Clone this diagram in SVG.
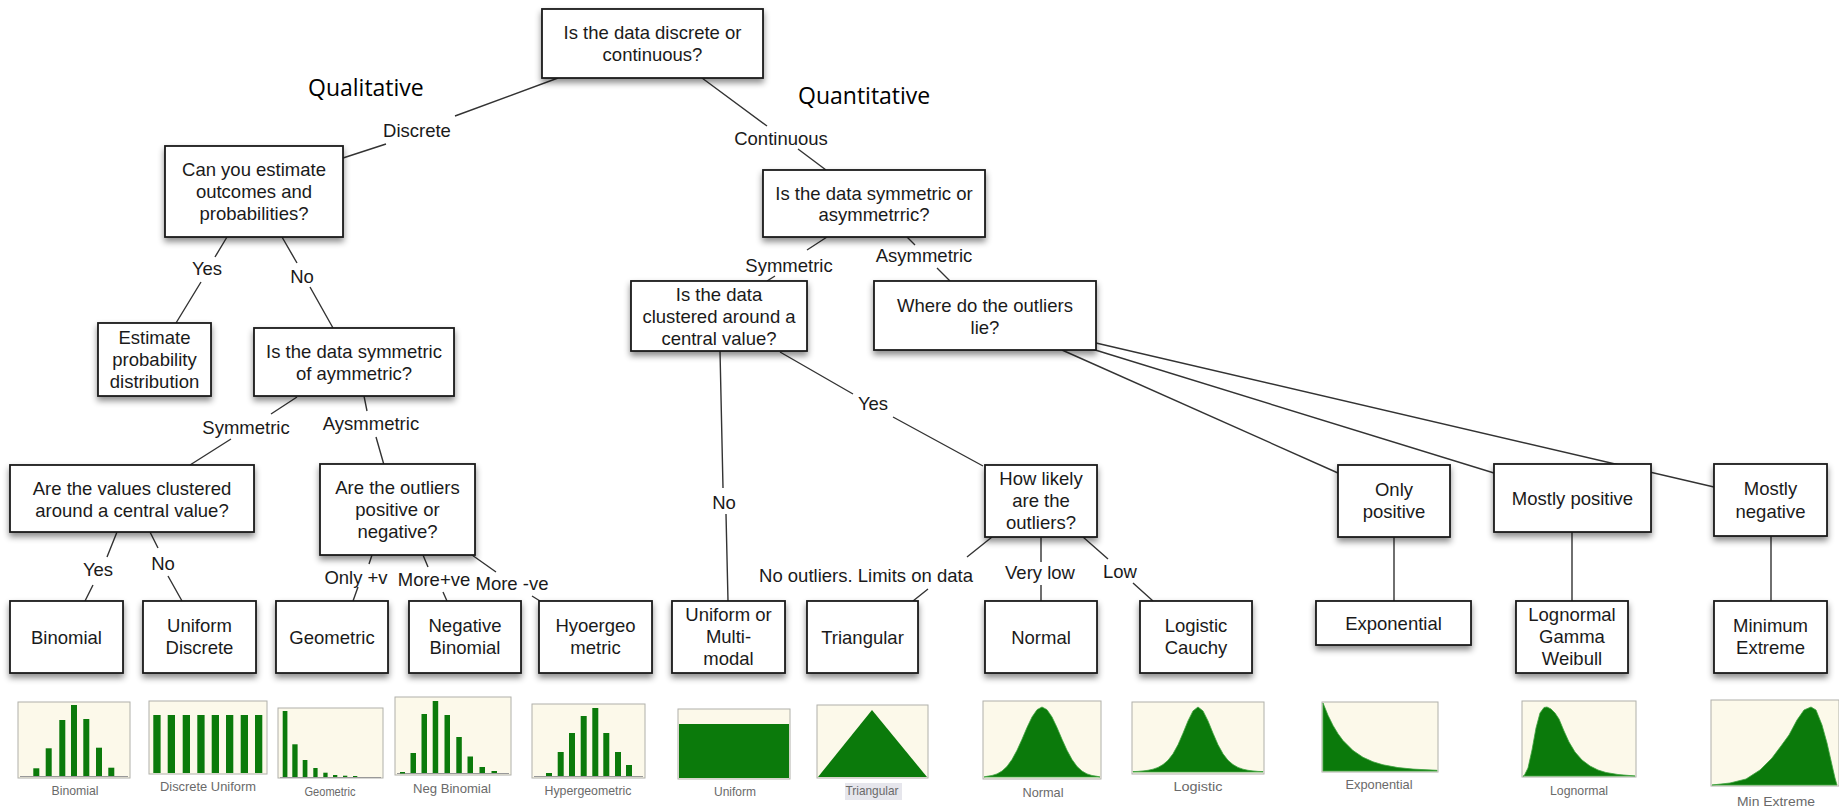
<svg xmlns="http://www.w3.org/2000/svg" width="1839" height="810" viewBox="0 0 1839 810">
<defs>
<filter id="sh" x="-10%" y="-10%" width="120%" height="140%">
<feDropShadow dx="0" dy="4" stdDeviation="3" flood-color="#000" flood-opacity="0.45"/>
</filter>
<style>
.box{fill:#fff;stroke:#1a1a1a;stroke-width:1.8;filter:url(#sh)}
.t{font-family:"Liberation Sans",Arial,Helvetica,sans-serif;font-size:18.5px;fill:#1a1a1a;text-anchor:middle}
.big{font-family:"Open Sans","Noto Sans",sans-serif;font-size:23px;fill:#000}
.conn{stroke:#333;stroke-width:1.4;fill:none}
.chart{fill:#fcf9ea;stroke:#b0b0aa;stroke-width:1}
.g{fill:#0b7a0b}
.gc{fill:#0b7a0b;stroke:#3fa33f;stroke-width:0.8}
.axis{stroke:#999;stroke-width:1}
.cap{font-family:"Liberation Sans",Arial,sans-serif;font-size:13px;fill:#6a6a6a;text-anchor:middle}
</style>
</defs>
<rect width="1839" height="810" fill="#fff"/>

<g id="connectors">
<path class="conn" d="M558,78 L455,116 M386,144 L343,158"/>
<path class="conn" d="M702,78 L767,126 M798,149 L826,170"/>
<path class="conn" d="M227,237 L215,257 M201,282 L176,323"/>
<path class="conn" d="M282,237 L297,263 M310,287 L333,328"/>
<path class="conn" d="M297,397 L271,414 M231,439 L190,465"/>
<path class="conn" d="M364,396 L367,411 M376,437 L384,465"/>
<path class="conn" d="M117,532 L107,557 M93,585 L85,601"/>
<path class="conn" d="M150,532 L158,548 M168,576 L182,601"/>
<path class="conn" d="M372,555 L369,564 M358,587 L353,601"/>
<path class="conn" d="M423,555 L428,567 M443,592 L447,601"/>
<path class="conn" d="M472,555 L496,572 M532,596 L540,601"/>
<path class="conn" d="M827,237 L807,250 M775,276 L767,281"/>
<path class="conn" d="M907,237 L915,245 M937,268 L950,281"/>
<path class="conn" d="M720,351 L723,488 M726,514 L728,601"/>
<path class="conn" d="M780,352 L853,394 M893,417 L983,466"/>
<path class="conn" d="M992,537 L967,557 M928,589 L913,601"/>
<path class="conn" d="M1041,537 L1041,562 M1041,585 L1041,601"/>
<path class="conn" d="M1083,537 L1108,559 M1133,583 L1153,601"/>
<path class="conn" d="M1062,350 L1338,473"/>
<path class="conn" d="M1092,349 L1494,473"/>
<path class="conn" d="M1096,343 L1714,487"/>
<path class="conn" d="M1394,537 L1394,601"/>
<path class="conn" d="M1572,532 L1572,601"/>
<path class="conn" d="M1771,536 L1771,601"/>
</g>

<g id="edge-labels">
<text class="big" x="308" y="96">Qualitative</text>
<text class="big" x="798" y="104">Quantitative</text>
<text class="t" x="417" y="136.5">Discrete</text>
<text class="t" x="781" y="144.5">Continuous</text>
<text class="t" x="207" y="274.5">Yes</text>
<text class="t" x="302" y="282.5">No</text>
<text class="t" x="246" y="433.5">Symmetric</text>
<text class="t" x="371" y="429.5">Aysmmetric</text>
<text class="t" x="98" y="575.5">Yes</text>
<text class="t" x="163" y="569.5">No</text>
<text class="t" x="356" y="583.5">Only +v</text>
<text class="t" x="434" y="585.5">More+ve</text>
<text class="t" x="512" y="589.5">More -ve</text>
<text class="t" x="789" y="271.5">Symmetric</text>
<text class="t" x="924" y="261.5">Asymmetric</text>
<text class="t" x="724" y="508.5">No</text>
<text class="t" x="873" y="409.5">Yes</text>
<text class="t" x="866" y="581.5">No outliers. Limits on data</text>
<text class="t" x="1040" y="578.5">Very low</text>
<text class="t" x="1120" y="577.5">Low</text>
</g>

<g id="n-top"><rect class="box" x="542" y="9" width="221" height="69"/>
<text class="t"><tspan x="652.5" y="39">Is the data discrete or</tspan><tspan x="652.5" y="61">continuous?</tspan></text></g>
<g id="n-estimate-q"><rect class="box" x="165" y="146" width="178" height="91"/>
<text class="t"><tspan x="254" y="176">Can you estimate</tspan><tspan x="254" y="198">outcomes and</tspan><tspan x="254" y="220">probabilities?</tspan></text></g>
<g id="n-estimate"><rect class="box" x="98" y="323" width="113" height="73"/>
<text class="t"><tspan x="154.5" y="343.5">Estimate</tspan><tspan x="154.5" y="366">probability</tspan><tspan x="154.5" y="388">distribution</tspan></text></g>
<g id="n-sym-disc"><rect class="box" x="254" y="328" width="200" height="68"/>
<text class="t"><tspan x="354" y="357.5">Is the data symmetric</tspan><tspan x="354" y="379.5">of aymmetric?</tspan></text></g>
<g id="n-clustered-disc"><rect class="box" x="10" y="465" width="244" height="67"/>
<text class="t"><tspan x="132" y="494.5">Are the values clustered</tspan><tspan x="132" y="516.5">around a central value?</tspan></text></g>
<g id="n-outliers-disc"><rect class="box" x="320" y="464" width="155" height="91"/>
<text class="t"><tspan x="397.5" y="494">Are the outliers</tspan><tspan x="397.5" y="516">positive or</tspan><tspan x="397.5" y="538">negative?</tspan></text></g>
<g id="n-binomial"><rect class="box" x="10" y="601" width="113" height="72"/>
<text class="t" x="66.5" y="643.5">Binomial</text></g>
<g id="n-uniform-discrete"><rect class="box" x="143" y="601" width="113" height="72"/>
<text class="t"><tspan x="199.5" y="632">Uniform</tspan><tspan x="199.5" y="654">Discrete</tspan></text></g>
<g id="n-geometric"><rect class="box" x="276" y="601" width="112" height="72"/>
<text class="t" x="332" y="643.5">Geometric</text></g>
<g id="n-negbinomial"><rect class="box" x="409" y="601" width="112" height="72"/>
<text class="t"><tspan x="465" y="632">Negative</tspan><tspan x="465" y="654">Binomial</tspan></text></g>
<g id="n-hyoergeo"><rect class="box" x="539" y="601" width="113" height="72"/>
<text class="t"><tspan x="595.5" y="632">Hyoergeo</tspan><tspan x="595.5" y="654">metric</tspan></text></g>
<g id="n-uniform-multi"><rect class="box" x="672" y="601" width="113" height="72"/>
<text class="t"><tspan x="728.5" y="621">Uniform or</tspan><tspan x="728.5" y="643">Multi-</tspan><tspan x="728.5" y="665">modal</tspan></text></g>
<g id="n-triangular"><rect class="box" x="807" y="601" width="111" height="72"/>
<text class="t" x="862.5" y="643.5">Triangular</text></g>
<g id="n-normal"><rect class="box" x="985" y="601" width="112" height="72"/>
<text class="t" x="1041" y="643.5">Normal</text></g>
<g id="n-logistic"><rect class="box" x="1140" y="601" width="112" height="72"/>
<text class="t"><tspan x="1196" y="632">Logistic</tspan><tspan x="1196" y="654">Cauchy</tspan></text></g>
<g id="n-exponential"><rect class="box" x="1316" y="601" width="155" height="44"/>
<text class="t" x="1393.5" y="629.5">Exponential</text></g>
<g id="n-lognormal"><rect class="box" x="1516" y="601" width="112" height="72"/>
<text class="t"><tspan x="1572" y="621">Lognormal</tspan><tspan x="1572" y="643">Gamma</tspan><tspan x="1572" y="665">Weibull</tspan></text></g>
<g id="n-minextreme"><rect class="box" x="1714" y="601" width="113" height="72"/>
<text class="t"><tspan x="1770.5" y="632">Minimum</tspan><tspan x="1770.5" y="654">Extreme</tspan></text></g>
<g id="n-sym-cont"><rect class="box" x="763" y="170" width="222" height="67"/>
<text class="t"><tspan x="874" y="199.5">Is the data symmetric or</tspan><tspan x="874" y="220.5">asymmetrric?</tspan></text></g>
<g id="n-clustered-cont"><rect class="box" x="631" y="281" width="176" height="70"/>
<text class="t"><tspan x="719" y="300.5">Is the data</tspan><tspan x="719" y="322.5">clustered around a</tspan><tspan x="719" y="344.5">central value?</tspan></text></g>
<g id="n-where"><rect class="box" x="874" y="281" width="222" height="69"/>
<text class="t"><tspan x="985" y="311.5">Where do the outliers</tspan><tspan x="985" y="333.5">lie?</tspan></text></g>
<g id="n-howlikely"><rect class="box" x="985" y="465" width="112" height="72"/>
<text class="t"><tspan x="1041" y="484.5">How likely</tspan><tspan x="1041" y="506.5">are the</tspan><tspan x="1041" y="528.5">outliers?</tspan></text></g>
<g id="n-onlypos"><rect class="box" x="1338" y="465" width="112" height="72"/>
<text class="t"><tspan x="1394" y="495.5">Only</tspan><tspan x="1394" y="518">positive</tspan></text></g>
<g id="n-mostlypos"><rect class="box" x="1494" y="464" width="157" height="68"/>
<text class="t" x="1572.5" y="504.5">Mostly positive</text></g>
<g id="n-mostlyneg"><rect class="box" x="1714" y="464" width="113" height="72"/>
<text class="t"><tspan x="1770.5" y="495">Mostly</tspan><tspan x="1770.5" y="518">negative</tspan></text></g>

<g id="chart-binomial">
<rect class="chart" x="18" y="702" width="112" height="76"/>
<line class="axis" x1="20" y1="776.5" x2="128" y2="776.5"/>
<rect class="g" x="33.3" y="768.3" width="6" height="7.7"/>
<rect class="g" x="45.7" y="748.3" width="6" height="27.7"/>
<rect class="g" x="59.3" y="720" width="6" height="56"/>
<rect class="g" x="71" y="705" width="6" height="71"/>
<rect class="g" x="83.3" y="719" width="6" height="57"/>
<rect class="g" x="96" y="747.7" width="6" height="28.3"/>
<rect class="g" x="108.3" y="767.7" width="6" height="8.3"/>
<text class="cap" x="75" y="795" textLength="47" lengthAdjust="spacingAndGlyphs">Binomial</text>
</g>
<g id="chart-discrete-uniform">
<rect class="chart" x="149" y="701" width="118" height="73"/>
<rect class="g" x="153.3" y="715" width="7.3" height="58"/>
<rect class="g" x="167.7" y="715" width="7.3" height="58"/>
<rect class="g" x="182.7" y="715" width="7.3" height="58"/>
<rect class="g" x="197.3" y="715" width="7.3" height="58"/>
<rect class="g" x="211.7" y="715" width="7.3" height="58"/>
<rect class="g" x="226" y="715" width="7.3" height="58"/>
<rect class="g" x="240.7" y="715" width="7.3" height="58"/>
<rect class="g" x="255" y="715" width="7.3" height="58"/>
<text class="cap" x="208" y="791" textLength="96" lengthAdjust="spacingAndGlyphs">Discrete Uniform</text>
</g>
<g id="chart-geometric">
<rect class="chart" x="278" y="708" width="105" height="70"/>
<line class="axis" x1="280" y1="777.5" x2="381" y2="777.5"/>
<rect class="g" x="282.7" y="711" width="4.7" height="66"/>
<rect class="g" x="292.3" y="744.3" width="5.3" height="32.7"/>
<rect class="g" x="302.7" y="760" width="4.7" height="17"/>
<rect class="g" x="313.3" y="768" width="4.3" height="9"/>
<rect class="g" x="323.3" y="772.7" width="4.3" height="4.3"/>
<rect class="g" x="333" y="775" width="4.3" height="2"/>
<rect class="g" x="343" y="775.7" width="4.3" height="1.3"/>
<rect class="g" x="353" y="776" width="4.3" height="1"/>
<text class="cap" x="330" y="796" textLength="51" lengthAdjust="spacingAndGlyphs">Geometric</text>
</g>
<g id="chart-negbinomial">
<rect class="chart" x="395" y="697" width="116" height="78"/>
<line class="axis" x1="397" y1="773.5" x2="509" y2="773.5"/>
<rect class="g" x="400" y="772" width="5" height="1.5"/>
<rect class="g" x="410.5" y="753" width="5.5" height="20"/>
<rect class="g" x="421.5" y="714" width="5.5" height="59"/>
<rect class="g" x="432.7" y="701" width="5.5" height="72"/>
<rect class="g" x="444.5" y="715" width="5.5" height="58"/>
<rect class="g" x="456.3" y="737" width="5.5" height="36"/>
<rect class="g" x="467.5" y="756.5" width="5.5" height="16.5"/>
<rect class="g" x="479.5" y="767" width="5.5" height="6"/>
<rect class="g" x="491.5" y="771" width="5.5" height="2"/>
<text class="cap" x="452" y="793" textLength="78" lengthAdjust="spacingAndGlyphs">Neg Binomial</text>
</g>
<g id="chart-hypergeometric">
<rect class="chart" x="532" y="704" width="113" height="74"/>
<line class="axis" x1="534" y1="776.5" x2="643" y2="776.5"/>
<rect class="g" x="546" y="773" width="6" height="3"/>
<rect class="g" x="557.7" y="752" width="6" height="24"/>
<rect class="g" x="569" y="733" width="6" height="43"/>
<rect class="g" x="580.7" y="716" width="6" height="60"/>
<rect class="g" x="592.3" y="708" width="6" height="68"/>
<rect class="g" x="603.3" y="733" width="6" height="43"/>
<rect class="g" x="615" y="752" width="6" height="24"/>
<rect class="g" x="626" y="765" width="6" height="11"/>
<text class="cap" x="588" y="795" textLength="87" lengthAdjust="spacingAndGlyphs">Hypergeometric</text>
</g>
<g id="chart-uniform">
<rect class="chart" x="678" y="709" width="112" height="70"/>
<rect class="g" x="679" y="724" width="110" height="54"/>
<text class="cap" x="735" y="796" textLength="42" lengthAdjust="spacingAndGlyphs">Uniform</text>
</g>
<g id="chart-triangular">
<rect class="chart" x="817" y="705" width="111" height="73"/>
<polygon class="g" points="872,710 927,777 818,777"/>
<rect x="845" y="783" width="57" height="17" fill="#e6e6ec"/>
<text class="cap" x="872" y="795" textLength="53" lengthAdjust="spacingAndGlyphs">Triangular</text>
</g>
<g id="chart-normal">
<rect class="chart" x="983" y="701" width="118" height="78"/>
<path class="gc" d="M984,777 L987,776.3 L992,775.5 L997,773.9 L1002,771.1 L1007,766.4 L1012,759.5 L1017,750.3 L1022,739.3 L1027,727.5 L1032,717 L1037,709.7 L1042,707 L1047,709.7 L1052,717 L1057,727.5 L1062,739.3 L1067,750.3 L1072,759.5 L1077,766.4 L1082,771.1 L1087,773.9 L1092,775.5 L1097,776.3 L1100,777 Z"/>
<text class="cap" x="1043" y="797" textLength="41" lengthAdjust="spacingAndGlyphs">Normal</text>
</g>
<g id="chart-logistic">
<rect class="chart" x="1132" y="702" width="132" height="72"/>
<path class="gc" d="M1133,772 L1133,771.6 L1138,771.4 L1143,770.9 L1148,770.3 L1153,769.2 L1158,767.4 L1163,764.6 L1168,760.3 L1173,753.8 L1178,744.7 L1183,733.2 L1188,720.9 L1193,710.9 L1198,707 L1203,710.9 L1208,720.9 L1213,733.2 L1218,744.7 L1223,753.8 L1228,760.3 L1233,764.6 L1238,767.4 L1243,769.2 L1248,770.3 L1253,770.9 L1258,771.4 L1263,771.6 L1263,772 Z"/>
<text class="cap" x="1198" y="791" textLength="49" lengthAdjust="spacingAndGlyphs">Logistic</text>
</g>
<g id="chart-exponential">
<rect class="chart" x="1322" y="702" width="116" height="70"/>
<path class="gc" d="M1323,771 L1323,703 L1328,715.3 L1333,725.4 L1338,733.7 L1343,740.5 L1353,750.5 L1363,757.3 L1373,761.8 L1383,764.8 L1398,767.6 L1413,769.1 L1437,770.3 L1437,771 Z"/>
<text class="cap" x="1379" y="789" textLength="67" lengthAdjust="spacingAndGlyphs">Exponential</text>
</g>
<g id="chart-lognormal">
<rect class="chart" x="1522" y="701" width="114" height="76"/>
<path class="gc" d="M1523,776 L1524,776 L1528,768 L1532,750 L1536,728 L1540,713 L1544,707.5 L1547,707 L1551,709 L1555,713 L1559,719 L1564,731 L1569,742 L1575,752 L1582,760 L1590,766 L1598,770 L1606,772.5 L1618,774.5 L1635,776 Z"/>
<text class="cap" x="1579" y="795" textLength="58" lengthAdjust="spacingAndGlyphs">Lognormal</text>
</g>
<g id="chart-minextreme">
<rect class="chart" x="1711" y="700" width="128" height="86"/>
<path class="gc" d="M1712,785 L1730,783 L1746,779 L1760,770 L1772,758 L1781,746 L1789,735 L1797,720 L1804,710 L1811,707 L1816,710 L1822,725 L1827,743 L1832,765 L1835,778 L1837,785 Z"/>
<text class="cap" x="1776" y="806" textLength="78" lengthAdjust="spacingAndGlyphs">Min Extreme</text>
</g>
</svg>
